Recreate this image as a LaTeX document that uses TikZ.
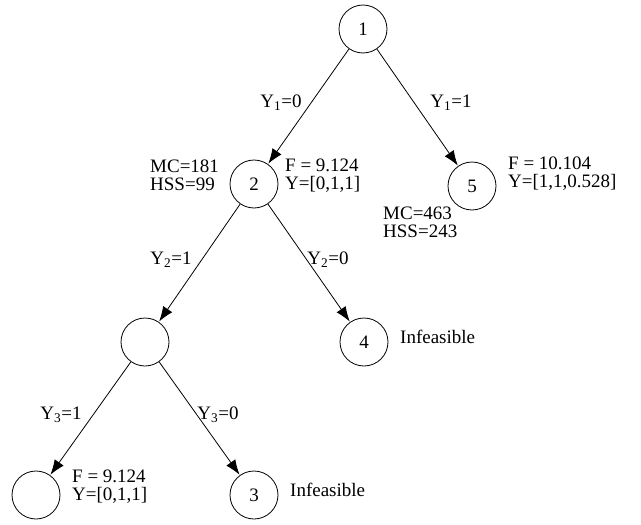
\documentclass[tikz,border=0pt]{standalone}
\usepackage{fontspec}
\setmainfont{Liberation Serif}
\usetikzlibrary{arrows.meta}

\begin{document}
\begin{tikzpicture}[x=1pt, y=-1pt]
  \tikzset{
    bbnode/.style={
      draw,
      circle,
      line width=0.8pt,
      minimum size=48pt,
      inner sep=0pt,
      font=\fontsize{19}{19}\selectfont
    },
    branch/.style={
      line width=0.8pt,
      -{Latex[length=15pt,width=11pt]},
      shorten >=0.5pt
    },
    info/.style={
      align=left,
      inner sep=0pt,
      font=\fontsize{19}{18}\selectfont
    }
  }
  \useasboundingbox (0,0) rectangle (641,525);

  % Tree nodes
  \node[bbnode] (n1) at (363, 29) {1};
  \node[bbnode] (n2) at (254, 184) {2};
  \node[bbnode] (n5) at (472, 186) {5};
  \node[bbnode] (nY) at (145, 342) {};
  \node[bbnode] (n4) at (364, 342) {4};
  \node[bbnode] (nL) at (36, 495) {};
  \node[bbnode] (n3) at (254, 495) {3};

  % Branches
  \draw[branch] (n1) -- (n2);
  \draw[branch] (n1) -- (n5);
  \draw[branch] (n2) -- (nY);
  \draw[branch] (n2) -- (n4);
  \draw[branch] (nY) -- (nL);
  \draw[branch] (nY) -- (n3);

  % Branch labels
  \node[info] (b10) at (281, 103) {Y\textsubscript{1}=0};
  \node[info] (b11) at (451, 103) {Y\textsubscript{1}=1};
  \node[info] (b21) at (171, 260) {Y\textsubscript{2}=1};
  \node[info] (b20) at (328, 260) {Y\textsubscript{2}=0};
  \node[info] (b31) at (61, 415) {Y\textsubscript{3}=1};
  \node[info] (b30) at (218, 415) {Y\textsubscript{3}=0};

  % Node 2 values
  \node[info, anchor=west] (mc2) at (150, 175.5) {MC=181\\HSS=99};
  \node[info, anchor=west] (f2) at (285, 175.5) {F = 9.124\\Y=[0,1,1]};

  % Node 5 values
  \node[info, anchor=west] (f5) at (508, 174) {F = 10.104\\Y=[1,1,0.528]};
  \node[info, anchor=west] (mc5) at (383, 222) {MC=463\\HSS=243};

  % Leaves
  \node[info, anchor=west] (inf4) at (400, 337) {Infeasible};
  \node[info, anchor=west] (fL) at (72, 487) {F = 9.124\\Y=[0,1,1]};
  \node[info, anchor=west] (inf3) at (290, 490) {Infeasible};
\end{tikzpicture}
\end{document}
